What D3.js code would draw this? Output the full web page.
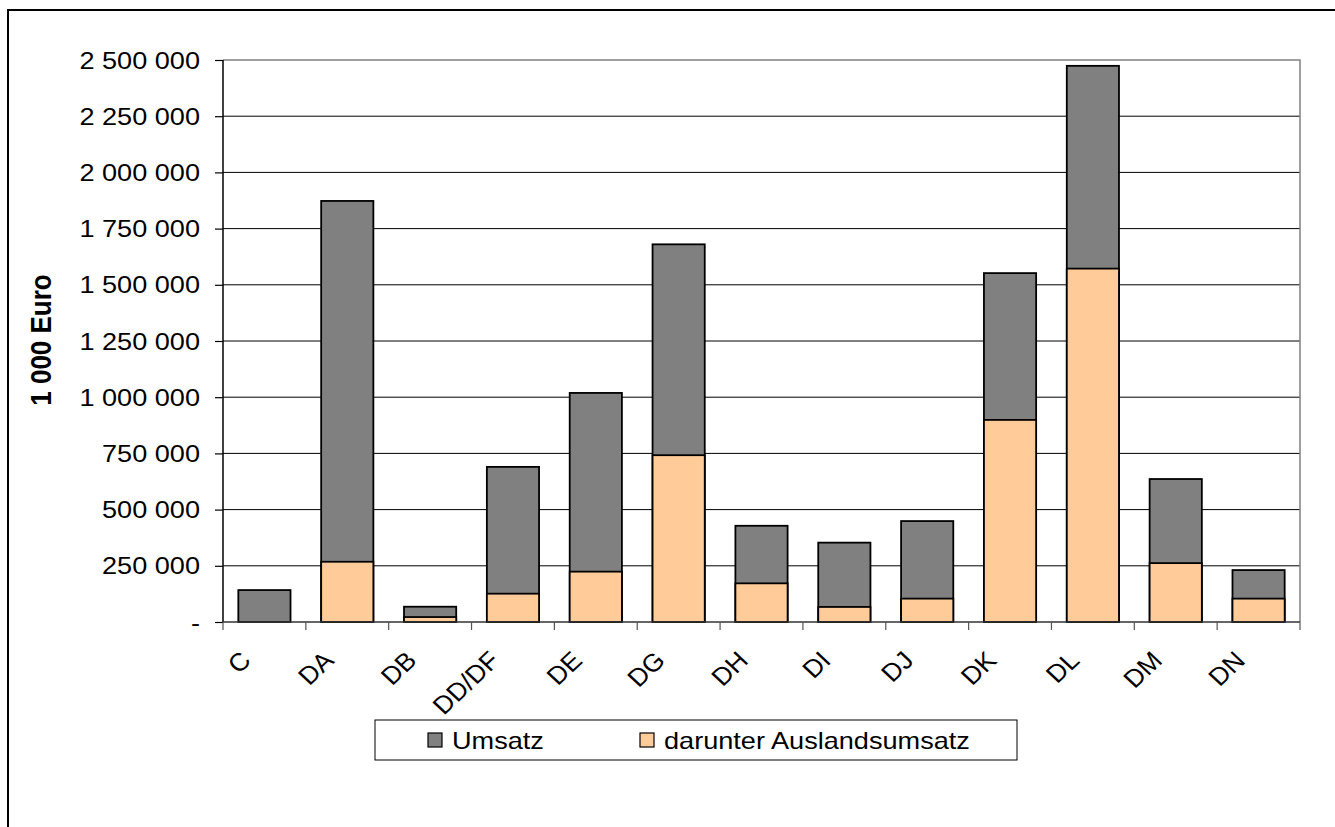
<!DOCTYPE html>
<html>
<head>
<meta charset="utf-8">
<script src="https://cdn.jsdelivr.net/npm/d3@7"></script>
<style>
  body { margin: 0; background: #fff; }
  text { font-family: "Liberation Sans", Arial, sans-serif; fill: #000; }
</style>
</head>
<body>
<div id="chart"></div>
<script>
////////////////////////////////////////////////////////////////////////
// Data (1 000 Euro)

let categories = ["C", "DA", "DB", "DD/DF", "DE", "DG", "DH", "DI", "DJ", "DK", "DL", "DM", "DN"];
let umsatz   = [142000, 1873000, 68000, 690000, 1019000, 1680000, 428000, 353000, 449000, 1552000, 2474000, 636000, 231000];
let ausland  = [0, 268000, 22000, 126000, 224000, 742000, 172000, 67000, 104000, 899000, 1572000, 262000, 104000];
let yTicks   = [0, 250000, 500000, 750000, 1000000, 1250000, 1500000, 1750000, 2000000, 2250000, 2500000];
let seriesNames = ["Umsatz", "darunter Auslandsumsatz"];

////////////////////////////////////////////////////////////////////////
// SVG setup

let width = 1335, height = 827;
let plotLeft = 223, plotRight = 1300, plotTop = 60, plotBottom = 622;
let SX = 1.13;   // text in the original is slightly stretched horizontally

let svg = d3.select("#chart").append("svg")
  .attr("width", width).attr("height", height);

// outer frame (runs off the right and bottom edge)
svg.append("path")
  .attr("d", `M8,${height + 5} L8,10 L${width + 5},10`)
  .attr("fill", "none").attr("stroke", "#000").attr("stroke-width", 2);

let x = d3.scaleBand().domain(categories).range([plotLeft, plotRight])
  .paddingInner(0.37).paddingOuter(0.185);
let y = d3.scaleLinear().domain([0, 2500000]).range([plotBottom, plotTop]);

let fmt = d => d === 0 ? "-" : d3.format(",")(d).replace(/,/g, " ");

// gridlines
svg.append("g")
  .selectAll("line")
  .data(yTicks.slice(1, -1))
  .enter().append("line")
  .attr("x1", plotLeft).attr("x2", plotRight)
  .attr("y1", d => y(d)).attr("y2", d => y(d))
  .attr("stroke", "#000").attr("stroke-width", 1);

// plot border top / right (gray)
svg.append("path")
  .attr("d", `M${plotLeft},${y(2500000)} L${plotRight},${y(2500000)} L${plotRight},${plotBottom}`)
  .attr("fill", "none").attr("stroke", "#808080").attr("stroke-width", 1.5);

////////////////////////////////////////////////////////////////////////
// Bars: Umsatz first, Auslandsumsatz drawn over it

svg.append("g")
  .selectAll("rect")
  .data(categories)
  .enter().append("rect")
  .attr("x", d => x(d))
  .attr("width", x.bandwidth())
  .attr("y", (d, i) => y(umsatz[i]))
  .attr("height", (d, i) => y(0) - y(umsatz[i]))
  .attr("fill", "#808080")
  .attr("stroke", "#000").attr("stroke-width", 1.8);

svg.append("g")
  .selectAll("rect")
  .data(categories.filter((d, i) => ausland[i] > 0))
  .enter().append("rect")
  .attr("x", d => x(d))
  .attr("width", x.bandwidth())
  .attr("y", d => y(ausland[categories.indexOf(d)]))
  .attr("height", d => y(0) - y(ausland[categories.indexOf(d)]))
  .attr("fill", "#FFCC99")
  .attr("stroke", "#000").attr("stroke-width", 1.8);

////////////////////////////////////////////////////////////////////////
// Axes

let yAxis = svg.append("g")
  .attr("transform", `translate(${plotLeft},0)`)
  .call(d3.axisLeft(y).tickValues(yTicks).tickFormat(fmt).tickSize(8).tickPadding(0));
yAxis.select(".domain").attr("stroke", "#000").attr("stroke-width", 1.5)
  .attr("d", `M0,${plotTop}V${plotBottom}`);
yAxis.selectAll(".tick line").attr("stroke", "#000").attr("stroke-width", 1.2);
yAxis.selectAll(".tick text")
  .attr("x", null).attr("dy", null)
  .attr("transform", `translate(-23,8) scale(${SX},1)`)
  .attr("font-size", 24).attr("font-family", "Liberation Sans, Arial, sans-serif")
  .attr("fill", "#000");

// x axis line and category boundary ticks
svg.append("line")
  .attr("x1", plotLeft).attr("x2", plotRight)
  .attr("y1", plotBottom).attr("y2", plotBottom)
  .attr("stroke", "#333").attr("stroke-width", 1.5);

let bounds = categories.map(d => x(d) - x.step() * x.paddingInner() / 2).concat([plotRight]);
svg.append("g")
  .selectAll("line")
  .data(bounds)
  .enter().append("line")
  .attr("x1", d => d).attr("x2", d => d)
  .attr("y1", plotBottom).attr("y2", plotBottom + 8)
  .attr("stroke", "#555").attr("stroke-width", 1.2);

svg.append("g")
  .selectAll("text")
  .data(categories)
  .enter().append("text")
  .attr("transform", d => `translate(${x(d) + x.bandwidth() / 2 - 12},662) scale(${SX * 0.94},1) rotate(-45)`)
  .attr("text-anchor", "end")
  .attr("font-size", 25)
  .text(d => d);

// y axis title
svg.append("text")
  .attr("transform", `translate(51,340) scale(${SX},1) rotate(-90)`)
  .attr("text-anchor", "middle")
  .attr("font-size", 26)
  .attr("font-weight", "bold")
  .text("1 000 Euro");

////////////////////////////////////////////////////////////////////////
// Legend

let legend = svg.append("g");
legend.append("rect")
  .attr("x", 375).attr("y", 720).attr("width", 642).attr("height", 40)
  .attr("fill", "#fff").attr("stroke", "#000").attr("stroke-width", 1);

let legendX = [428, 640];
let legendFill = ["#808080", "#FFCC99"];
seriesNames.forEach((name, i) => {
  legend.append("rect")
    .attr("x", legendX[i]).attr("y", 733).attr("width", 14).attr("height", 14)
    .attr("fill", legendFill[i]).attr("stroke", "#000").attr("stroke-width", 1.2);
  legend.append("text")
    .attr("transform", `translate(${legendX[i] + 24},749) scale(${SX},1)`)
    .attr("font-size", 24)
    .text(name);
});
</script>
</body>
</html>
